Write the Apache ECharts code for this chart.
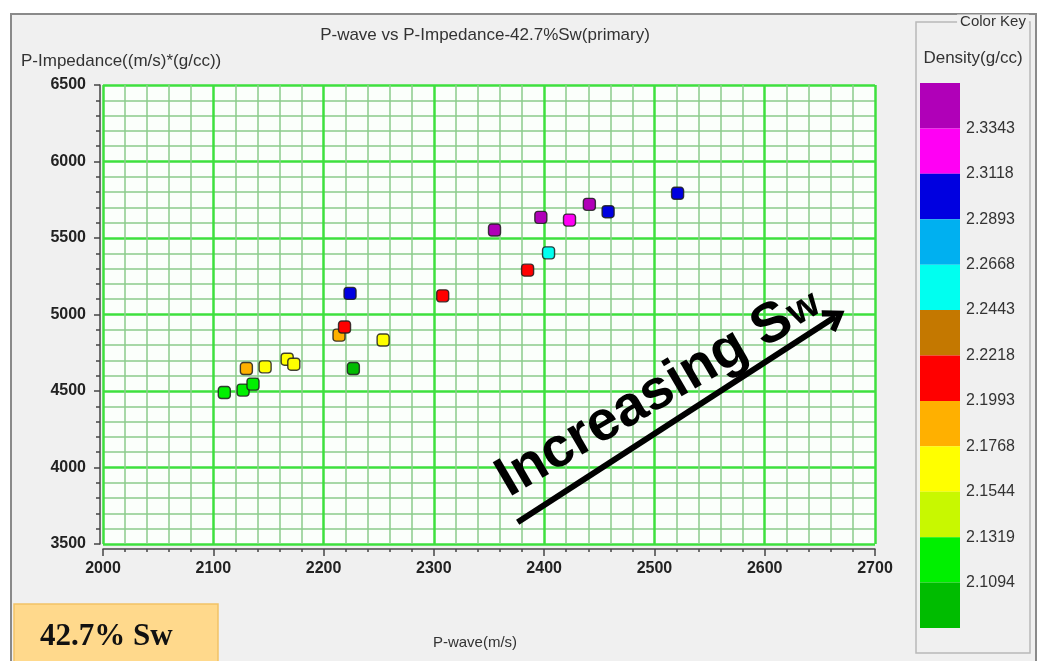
<!DOCTYPE html>
<html>
<head>
<meta charset="utf-8">
<script src="https://cdn.jsdelivr.net/npm/echarts@6/dist/echarts.min.js"></script>
<style>
  html, body { margin: 0; padding: 0; background: #ffffff; }
  #chart { width: 1042px; height: 661px; }
</style>
</head>
<body>
<div id="chart"></div>
<script>
// P-wave velocity (m/s) of each sample
const pWave = [2110, 2127, 2136, 2130, 2147, 2167, 2173, 2227, 2224, 2214, 2219, 2254,
               2308, 2385, 2404, 2355, 2397, 2423, 2441, 2458, 2521];
// P-impedance ((m/s)*(g/cc)) of each sample
const pImpedance = [4490, 4506, 4545, 4647, 4658, 4708, 4675, 4647, 5138, 4865, 4918, 4833,
                    5122, 5290, 5403, 5552, 5635, 5617, 5720, 5672, 5792];
// Bulk density (g/cc) of each sample, drives the marker colour
const density = [2.120, 2.120, 2.120, 2.188, 2.165, 2.160, 2.160, 2.100, 2.300, 2.185, 2.210, 2.165,
                 2.210, 2.210, 2.255, 2.345, 2.345, 2.322, 2.345, 2.300, 2.300];

// Colour key: class boundaries (top to bottom) and class colours (top to bottom)
const keyBounds = [2.3343, 2.3118, 2.2893, 2.2668, 2.2443, 2.2218, 2.1993, 2.1768, 2.1544, 2.1319, 2.1094];
const keyColors = ['#b000b8', '#ff00f4', '#0000e0', '#00b0f0', '#00fff0', '#c47800',
                   '#ff0000', '#ffb000', '#ffff00', '#c8f800', '#00f000', '#00bc00'];

// Axis ranges
const xRange = { min: 2000, max: 2700, step: 100 };
const yRange = { min: 3500, max: 6500, step: 500 };

const points = pWave.map((x, i) => [x, pImpedance[i], density[i]]);

// Density classes for the visual mapping of the scatter markers
const pieces = keyColors.map((color, i) => {
  if (i === 0) return { gte: keyBounds[0], color };
  if (i === keyColors.length - 1) return { lt: keyBounds[keyBounds.length - 1], color };
  return { gte: keyBounds[i], lt: keyBounds[i - 1], color };
});

const plainFont = 'Liberation Sans, Arial, sans-serif';
const axisText = {
  color: '#222', fontSize: 16, fontWeight: 'bold', fontFamily: plainFont,
  formatter: v => String(v)
};

const chart = echarts.init(document.getElementById('chart'), null, { renderer: 'canvas' });

chart.setOption({
  animation: false,
  backgroundColor: '#f0f0f0',
  title: {
    text: 'P-wave vs P-Impedance-42.7%Sw(primary)',
    left: 480,
    top: 22,
    textAlign: 'center',
    textStyle: { fontSize: 17, fontWeight: 'normal', color: '#333', fontFamily: plainFont }
  },
  grid: [
    { left: 103, right: 167, top: 85, bottom: 117, show: true, backgroundColor: '#fbfffb', borderWidth: 0 },
    { left: 920, top: 83, width: 40, height: 545, show: false }
  ],
  xAxis: [
    {
      type: 'value', gridIndex: 0,
      min: xRange.min, max: xRange.max, interval: xRange.step,
      offset: 5,
      name: 'P-wave(m/s)', nameLocation: 'middle', nameGap: 86,
      nameTextStyle: { color: '#333', fontSize: 15, fontFamily: plainFont, padding: [0, 28, 0, 0] },
      axisLine: { show: true, onZero: false, lineStyle: { color: '#444', width: 1.5 } },
      axisTick: { show: true, length: 7, lineStyle: { color: '#444', width: 1.5 } },
      minorTick: { show: true, splitNumber: 5, length: 3, lineStyle: { color: '#444', width: 1.5 } },
      splitLine: { show: true, lineStyle: { color: '#3ee03e', width: 2.5 } },
      minorSplitLine: { show: true, lineStyle: { color: '#8ccb8c', width: 1.5 } },
      axisLabel: Object.assign({ margin: 12 }, axisText)
    },
    { type: 'value', gridIndex: 1, min: 0, max: 1, show: false }
  ],
  yAxis: [
    {
      type: 'value', gridIndex: 0,
      min: yRange.min, max: yRange.max, interval: yRange.step,
      offset: 3,
      axisLine: { show: true, onZero: false, lineStyle: { color: '#444', width: 1.5 } },
      axisTick: { show: true, length: 6, lineStyle: { color: '#444', width: 1.5 } },
      minorTick: { show: true, splitNumber: 5, length: 4, lineStyle: { color: '#444', width: 1.5 } },
      splitLine: { show: true, lineStyle: { color: '#3ee03e', width: 2.5 } },
      minorSplitLine: { show: true, lineStyle: { color: '#8ccb8c', width: 1.5 } },
      axisLabel: Object.assign({ margin: 14 }, axisText)
    },
    {
      type: 'category', gridIndex: 1, inverse: true, show: false,
      data: keyColors.map((c, i) => 'class' + i)
    }
  ],
  visualMap: {
    type: 'piecewise', show: false, seriesIndex: 0, dimension: 2, pieces: pieces
  },
  series: [
    {
      name: 'samples',
      type: 'scatter',
      xAxisIndex: 0, yAxisIndex: 0,
      data: points,
      symbol: 'roundRect',
      symbolSize: 12,
      itemStyle: { borderColor: 'rgba(30,30,30,0.85)', borderWidth: 1.4, opacity: 1 },
      markLine: {
        silent: true,
        symbol: ['none', 'path://M0,18 L12,0 L24,18 L19,21 L12,10 L5,21 Z'],
        symbolSize: [26, 22],
        label: { show: false },
        lineStyle: { color: '#000', width: 6, type: 'solid' },
        data: [[{ coord: [2376, 3642] }, { coord: [2664, 4985] }]]
      }
    },
    {
      name: 'colour key',
      type: 'bar',
      xAxisIndex: 1, yAxisIndex: 1,
      barCategoryGap: '0%',
      silent: true,
      data: keyColors.map((color, i) => ({
        value: 1,
        itemStyle: { color },
        label: {
          show: i < keyBounds.length,
          position: ['100%', '100%'],
          offset: [6, 0],
          align: 'left',
          verticalAlign: 'middle',
          formatter: i < keyBounds.length ? keyBounds[i].toFixed(4) : '',
          color: '#333', fontSize: 16, fontFamily: plainFont
        }
      }))
    }
  ],
  graphic: [
    // white margin outside the panel frame
    { type: 'rect', shape: { x: 0, y: 0, width: 1042, height: 13 }, style: { fill: '#ffffff' }, silent: true },
    { type: 'rect', shape: { x: 0, y: 0, width: 10, height: 661 }, style: { fill: '#ffffff' }, silent: true },
    { type: 'rect', shape: { x: 1037, y: 0, width: 5, height: 661 }, style: { fill: '#ffffff' }, silent: true },
    {
      type: 'polyline', silent: true,
      shape: { points: [[11, 661], [11, 14], [1036, 14], [1036, 661]] },
      style: { stroke: '#8a8a8a', lineWidth: 2, fill: null }
    },
    // colour key group box
    {
      type: 'rect', silent: true,
      shape: { x: 916, y: 22, width: 114, height: 631 },
      style: { fill: null, stroke: '#b8b8b8', lineWidth: 1.5 }
    },
    {
      type: 'text', silent: true, x: 993, y: 22,
      style: {
        text: 'Color Key', font: '15px ' + plainFont, fill: '#333',
        align: 'center', verticalAlign: 'middle',
        backgroundColor: '#f0f0f0', padding: [0, 3]
      }
    },
    {
      type: 'text', silent: true, x: 973, y: 58,
      style: {
        text: 'Density(g/cc)', font: '17px ' + plainFont, fill: '#333',
        align: 'center', verticalAlign: 'middle'
      }
    },
    // y-axis caption
    {
      type: 'text', silent: true, x: 21, y: 61,
      style: {
        text: 'P-Impedance((m/s)*(g/cc))', font: '17px ' + plainFont, fill: '#333',
        align: 'left', verticalAlign: 'middle'
      }
    },
    // saturation tag
    {
      type: 'rect', silent: true,
      shape: { x: 14, y: 604, width: 204, height: 62 },
      style: { fill: '#ffd98c', stroke: '#f2c266', lineWidth: 1.5 }
    },
    {
      type: 'text', silent: true, x: 40, y: 637,
      style: {
        text: '42.7% Sw', font: 'bold 31px Liberation Serif, Times New Roman, serif', fill: '#111',
        align: 'left', verticalAlign: 'middle'
      }
    },
    // trend caption along the arrow, drawn above the grid lines
    {
      type: 'group', silent: true, x: 664, y: 398, rotation: 0.53, z: 100,
      children: [
        {
          type: 'text', x: -184, y: 20, z: 100,
          style: {
            text: 'Increasing S', font: 'bold 56px Liberation Sans, Arial, sans-serif',
            fill: '#000', align: 'left', verticalAlign: 'bottom'
          }
        },
        {
          type: 'text', x: 150, y: 14, z: 100,
          style: {
            text: 'w', font: 'bold 40px Liberation Sans, Arial, sans-serif',
            fill: '#000', align: 'left', verticalAlign: 'bottom'
          }
        }
      ]
    }
  ]
});
</script>
</body>
</html>
